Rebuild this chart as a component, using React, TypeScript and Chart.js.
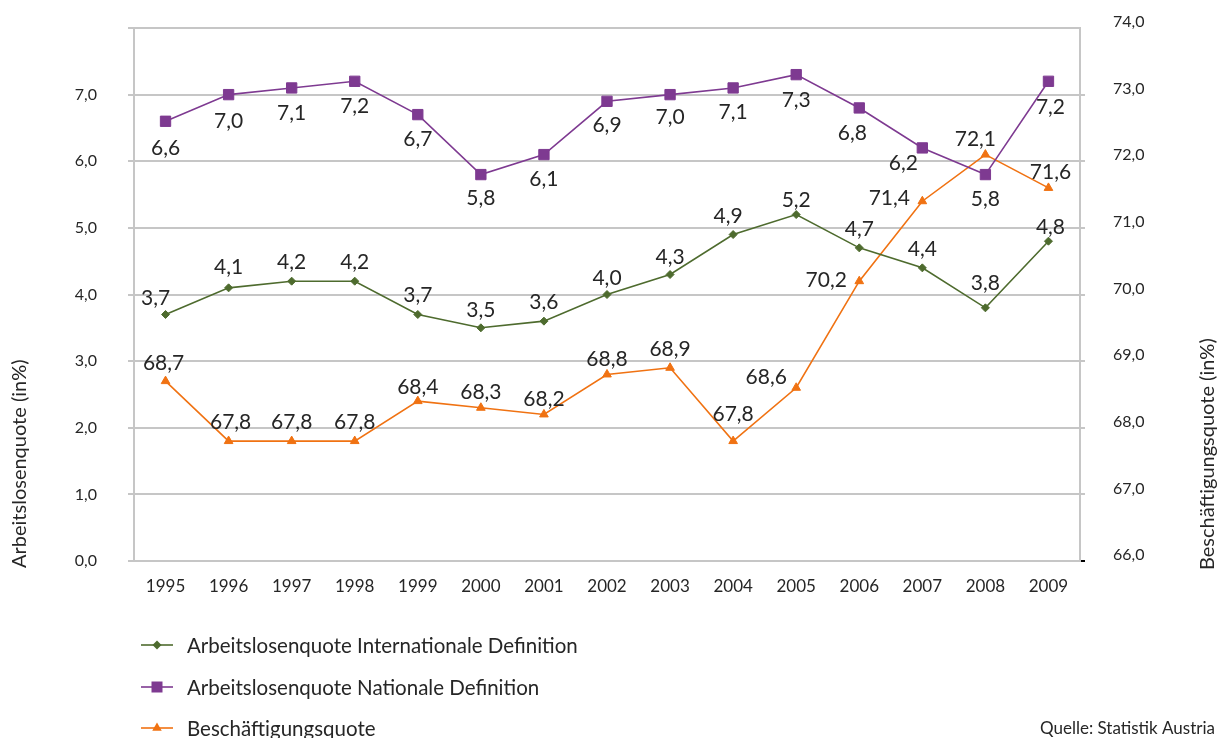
import React, { useEffect, useRef } from "react";
import { Chart, registerables } from "chart.js";

Chart.register(...registerables);

const YEARS = ["1995", "1996", "1997", "1998", "1999", "2000", "2001", "2002", "2003", "2004", "2005", "2006", "2007", "2008", "2009"];
const INTERNATIONAL = [3.7, 4.1, 4.2, 4.2, 3.7, 3.5, 3.6, 4.0, 4.3, 4.9, 5.2, 4.7, 4.4, 3.8, 4.8];
const NATIONAL = [6.6, 7.0, 7.1, 7.2, 6.7, 5.8, 6.1, 6.9, 7.0, 7.1, 7.3, 6.8, 6.2, 5.8, 7.2];
const EMPLOYMENT = [68.7, 67.8, 67.8, 67.8, 68.4, 68.3, 68.2, 68.8, 68.9, 67.8, 68.6, 70.2, 71.4, 72.1, 71.6];

const SERIES_NAMES = [
  "Arbeitslosenquote Internationale Definition",
  "Arbeitslosenquote Nationale Definition",
  "Beschäftigungsquote",
];
const LEFT_TITLE = "Arbeitslosenquote (in%)";
const RIGHT_TITLE = "Beschäftigungsquote (in%)";
const SOURCE = "Quelle: Statistik Austria";

const GREEN = "#4e6b2e";
const PURPLE = "#7e3a91";
const ORANGE = "#f07212";
const TEXT = "#262626";
const GRID = "#c6c6c6";
const FONT = 'Lato, "Open Sans", sans-serif';

// label placement offsets (text centre relative to the marker)
const LABEL_OFFSETS: [number, number][][] = [
  [[-10, -17], [0, -21], [0, -20], [0, -20], [0, -20], [0, -18], [0, -20], [0, -17], [0, -18], [-5, -19], [0, -15], [0, -19], [0, -19], [0, -25], [2, -15]],
  [[0, 26], [0, 26], [0, 24], [0, 24], [0, 24], [0, 23], [0, 24], [0, 23], [0, 22], [0, 23], [0, 25], [-7, 24], [-19, 15], [0, 24], [2, 25]],
  [[-2, -19], [2, -20], [0, -20], [0, -20], [0, -15], [0, -16], [0, -16], [0, -16], [0, -19], [0, -28], [-30, -11], [-33, -2], [-33, -4], [-10, -16], [2, -16]],
];

const fmt = (v: number) => v.toFixed(1).replace(".", ",");

function drawMarker(ctx: CanvasRenderingContext2D, style: string, x: number, y: number, color: string) {
  ctx.fillStyle = color;
  ctx.beginPath();
  if (style === "rectRot") {
    const r = 4.5;
    ctx.moveTo(x, y - r);
    ctx.lineTo(x + r, y);
    ctx.lineTo(x, y + r);
    ctx.lineTo(x - r, y);
  } else if (style === "rect") {
    const s = 5.5;
    ctx.rect(x - s, y - s, 2 * s, 2 * s);
  } else {
    const r = 5.5;
    ctx.moveTo(x, y - r);
    ctx.lineTo(x + r * 0.866, y + r * 0.5);
    ctx.lineTo(x - r * 0.866, y + r * 0.5);
  }
  ctx.closePath();
  ctx.fill();
}

const overlayPlugin = {
  id: "overlay",
  afterDatasetsDraw(chart: any) {
    const ctx: CanvasRenderingContext2D = chart.ctx;
    ctx.save();
    const fs = 21;
    ctx.font = `${fs}px ${FONT}`;
    ctx.fillStyle = TEXT;
    ctx.textAlign = "center";
    ctx.textBaseline = "alphabetic";
    chart.data.datasets.forEach((ds: any, di: number) => {
      const meta = chart.getDatasetMeta(di);
      meta.data.forEach((pt: any, i: number) => {
        const [dx, dy] = LABEL_OFFSETS[di][i];
        ctx.fillText(fmt(ds.data[i]), pt.x + dx, pt.y + dy + fs * 0.36);
      });
    });
    ctx.restore();
  },
  afterDraw(chart: any) {
    const ctx: CanvasRenderingContext2D = chart.ctx;
    ctx.save();
    // legend
    const rows = [645, 687, 728];
    ctx.font = `20.5px ${FONT}`;
    ctx.textAlign = "left";
    ctx.textBaseline = "middle";
    chart.data.datasets.forEach((ds: any, i: number) => {
      const y = rows[i];
      ctx.strokeStyle = ds.borderColor;
      ctx.lineWidth = 1.6;
      ctx.beginPath();
      ctx.moveTo(141, y);
      ctx.lineTo(173, y);
      ctx.stroke();
      drawMarker(ctx, ds.pointStyle, 157, y, ds.borderColor);
      ctx.fillStyle = TEXT;
      ctx.fillText(ds.label, 187, y + 1);
    });
    // axis titles
    ctx.font = `20px ${FONT}`;
    ctx.fillStyle = TEXT;
    ctx.save();
    ctx.translate(20, 568);
    ctx.rotate(-Math.PI / 2);
    ctx.textAlign = "left";
    ctx.textBaseline = "middle";
    ctx.fillText(LEFT_TITLE, 0, 0);
    ctx.restore();
    ctx.save();
    ctx.translate(1208, 570);
    ctx.rotate(-Math.PI / 2);
    ctx.textAlign = "left";
    ctx.textBaseline = "middle";
    ctx.fillText(RIGHT_TITLE, 0, 0);
    ctx.restore();
    // source
    ctx.font = `17px ${FONT}`;
    ctx.textAlign = "right";
    ctx.textBaseline = "alphabetic";
    ctx.fillText(SOURCE, 1215, 734);
    ctx.restore();
  },
};

export default function App() {
  const ref = useRef<HTMLCanvasElement>(null);
  useEffect(() => {
    document.body.style.margin = "0";
    const canvas = ref.current!;
    const chart = new Chart(canvas, {
      type: "line",
      data: {
        labels: YEARS,
        datasets: [
          {
            label: SERIES_NAMES[0],
            data: INTERNATIONAL,
            yAxisID: "y",
            borderColor: GREEN,
            backgroundColor: GREEN,
            borderWidth: 1.6,
            pointStyle: "rectRot",
            pointRadius: 4,
            pointBorderWidth: 1,
            pointBorderColor: GREEN,
            pointBackgroundColor: GREEN,
            tension: 0,
          },
          {
            label: SERIES_NAMES[1],
            data: NATIONAL,
            yAxisID: "y",
            borderColor: PURPLE,
            backgroundColor: PURPLE,
            borderWidth: 1.6,
            pointStyle: "rect",
            pointRadius: 7.3,
            pointBorderWidth: 1,
            pointBorderColor: PURPLE,
            pointBackgroundColor: PURPLE,
            tension: 0,
          },
          {
            label: SERIES_NAMES[2],
            data: EMPLOYMENT,
            yAxisID: "y1",
            borderColor: ORANGE,
            backgroundColor: ORANGE,
            borderWidth: 1.6,
            pointStyle: "triangle",
            pointRadius: 5,
            pointBorderWidth: 1,
            pointBorderColor: ORANGE,
            pointBackgroundColor: ORANGE,
            tension: 0,
          },
        ],
      },
      options: {
        responsive: false,
        animation: false,
        devicePixelRatio: 1,
        layout: { padding: { top: 28, left: 0, right: 0, bottom: 0 } },
        plugins: { legend: { display: false }, tooltip: { enabled: false } },
        scales: {
          x: {
            type: "category",
            offset: true,
            grid: { display: false, drawTicks: false },
            border: { display: false },
            ticks: { font: { family: FONT, size: 17 }, color: TEXT, padding: 15, maxRotation: 0, autoSkip: false },
            afterFit: (s: any) => {
              s.height = 177;
            },
          },
          y: {
            position: "left",
            min: 0,
            max: 8,
            ticks: {
              stepSize: 1,
              padding: 31,
              font: { family: FONT, size: 16 },
              color: TEXT,
              callback: (v: any) => (Number(v) === 8 ? "" : fmt(Number(v))),
            },
            grid: { color: GRID, lineWidth: 2, tickLength: 6 },
            border: { color: GRID, width: 2 },
            afterFit: (s: any) => {
              s.width = 134;
              s.paddingTop = 10;
              s.paddingBottom = 10;
            },
          },
          y1: {
            position: "right",
            min: 66,
            max: 74,
            ticks: {
              stepSize: 1,
              padding: 28,
              labelOffset: -6,
              font: { family: FONT, size: 16 },
              color: TEXT,
              callback: (v: any) => fmt(Number(v)),
            },
            grid: {
              drawOnChartArea: false,
              tickLength: 5,
              lineWidth: 2,
              color: (c: any) => (c.index === 0 ? "#000000" : c.index === 8 ? "rgba(0,0,0,0)" : GRID),
            },
            border: { color: GRID, width: 2 },
            afterFit: (s: any) => {
              s.width = 139;
              s.paddingTop = 10;
              s.paddingBottom = 10;
            },
          },
        },
      },
      plugins: [overlayPlugin],
    } as any);
    return () => chart.destroy();
  }, []);
  return (
    <div style={{ position: "fixed", left: 0, top: 0, width: 1219, height: 738, background: "#fff" }}>
      <canvas ref={ref} width={1219} height={738} style={{ width: 1219, height: 738, display: "block" }} />
    </div>
  );
}
